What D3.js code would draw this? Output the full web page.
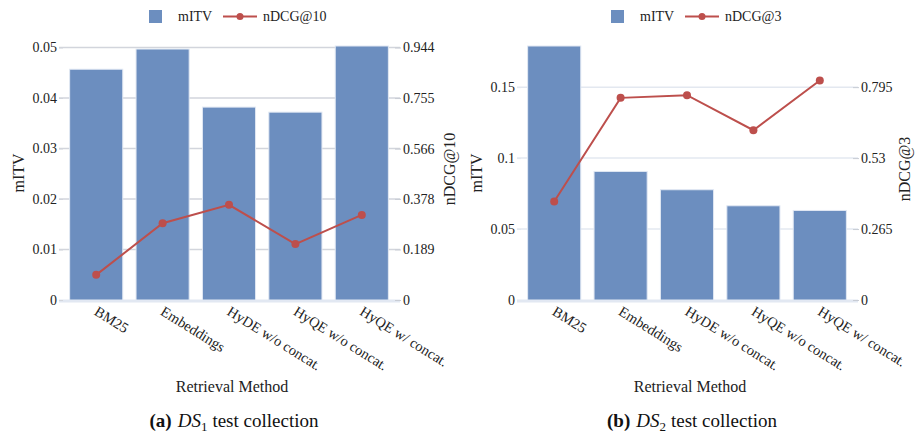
<!DOCTYPE html>
<html>
<head>
<meta charset="utf-8">
<script src="https://cdn.jsdelivr.net/npm/d3@7"></script>
<style>
  body { margin: 0; background: #fff; }
  svg { font-family: "Liberation Serif", "DejaVu Serif", serif; }
</style>
</head>
<body>
<svg id="chart" width="918" height="435"></svg>
<script>
const methods = ["BM25", "Embeddings", "HyDE w/o concat.", "HyQE w/o concat.", "HyQE w/ concat."];

// DS1 panel
const mitvDS1 = [0.0457, 0.0497, 0.0382, 0.0372, 0.0503];
const ndcg10DS1 = [0.094, 0.287, 0.356, 0.209, 0.318];
const leftTicksDS1 = [0, 0.01, 0.02, 0.03, 0.04, 0.05];
const rightTicksDS1 = [0, 0.189, 0.378, 0.566, 0.755, 0.944];

// DS2 panel
const mitvDS2 = [0.179, 0.0906, 0.0777, 0.0664, 0.0631];
const ndcg3DS2 = [0.368, 0.755, 0.765, 0.634, 0.82];
const leftTicksDS2 = [0, 0.05, 0.1, 0.15];
const rightTicksDS2 = [0, 0.265, 0.53, 0.795];

const barColor = "#6c8ebf";
const lineColor = "#bd4f4c";
const textColor = "#222";

const svg = d3.select("#chart");

function drawPanel(cfg) {
	const g = svg.append("g").attr("transform", `translate(${cfg.offset},0)`);
	const left = 63, right = 395, top = 46, bottom = 300;
	const cx = (left + right) / 2;

	const x = d3.scaleBand().domain(methods).range([left, right])
		.paddingInner(0.2).paddingOuter(0.1);
	const yL = d3.scaleLinear().domain([0, d3.max(cfg.bars)]).range([bottom, top]);
	const ratio = cfg.rightTicks[cfg.rightTicks.length - 1] / cfg.leftTicks[cfg.leftTicks.length - 1];
	const yR = d3.scaleLinear().domain([0, d3.max(cfg.bars) * ratio]).range([bottom, top]);

	// grid
	g.append("g").selectAll("line")
		.data(cfg.leftTicks.filter((d) => d > 0))
		.join("line")
		.attr("x1", left - 4).attr("x2", right + 5)
		.attr("y1", (d) => yL(d)).attr("y2", (d) => yL(d))
		.attr("stroke", cfg.gridColor).attr("stroke-width", 1.5);
	g.append("line")
		.attr("x1", left - 4).attr("x2", right + 5)
		.attr("y1", bottom + 1).attr("y2", bottom + 1)
		.attr("stroke", "#e2e8f2").attr("stroke-width", 3);

	// left axis
	const la = g.append("g")
		.attr("transform", `translate(${left},0)`)
		.call(d3.axisLeft(yL).tickValues(cfg.leftTicks).tickFormat((d) => String(d)).tickSize(4).tickPadding(2));
	la.select(".domain").remove();
	la.selectAll("line").attr("stroke", cfg.gridColor);
	la.selectAll("text").attr("font-size", 14).attr("font-family", "Liberation Serif").attr("fill", textColor);

	// right axis
	const ra = g.append("g")
		.attr("transform", `translate(${right},0)`)
		.call(d3.axisRight(yR).tickValues(cfg.rightTicks).tickFormat((d) => String(d)).tickSize(6).tickPadding(2));
	ra.select(".domain").remove();
	ra.selectAll("line").attr("stroke", "#c8ccd4");
	ra.selectAll("text").attr("font-size", 14).attr("font-family", "Liberation Serif").attr("fill", textColor);

	// bars
	g.append("g").selectAll("rect")
		.data(cfg.bars)
		.join("rect")
		.attr("x", (d, i) => x(methods[i]))
		.attr("y", (d) => yL(d))
		.attr("width", x.bandwidth())
		.attr("height", (d) => bottom - yL(d))
		.attr("fill", barColor)
		.attr("stroke", "#e1e8f3")
		.attr("stroke-width", 1);

	// line + markers
	const line = d3.line()
		.x((d, i) => x(methods[i]) + x.bandwidth() / 2)
		.y((d) => yR(d));
	g.append("path")
		.datum(cfg.points)
		.attr("fill", "none")
		.attr("stroke", lineColor)
		.attr("stroke-width", 2)
		.attr("d", line);
	g.append("g").selectAll("circle")
		.data(cfg.points)
		.join("circle")
		.attr("cx", (d, i) => x(methods[i]) + x.bandwidth() / 2)
		.attr("cy", (d) => yR(d))
		.attr("r", 4)
		.attr("fill", lineColor);

	// x tick labels
	g.append("g").selectAll("text")
		.data(methods)
		.join("text")
		.attr("transform", (d) => `translate(${x(d) + x.bandwidth() / 2 - 3},${bottom + 14}) rotate(32)`)
		.attr("font-size", 14.5)
		.attr("fill", textColor)
		.text((d) => d);

	// axis titles
	g.append("text")
		.attr("transform", `translate(24,${(top + bottom) / 2}) rotate(-90)`)
		.attr("text-anchor", "middle")
		.attr("font-size", 16).attr("fill", textColor)
		.text("mITV");
	g.append("text")
		.attr("transform", `translate(${cfg.rightTitleX},${(top + bottom) / 2 - 4}) rotate(-90)`)
		.attr("text-anchor", "middle")
		.attr("font-size", 16).attr("fill", textColor)
		.text(cfg.lineLabel);
	g.append("text")
		.attr("x", cx + 3).attr("y", 392)
		.attr("text-anchor", "middle")
		.attr("font-size", 16).attr("fill", textColor)
		.text("Retrieval Method");

	// legend
	const lg = g.append("g");
	lg.append("rect").attr("x", cfg.legendX).attr("y", 10).attr("width", 13).attr("height", 13).attr("fill", barColor);
	lg.append("text").attr("x", cfg.legendX + 29).attr("y", 21).attr("font-size", 14).attr("fill", textColor).text("mITV");
	lg.append("line")
		.attr("x1", cfg.legendX + 74).attr("x2", cfg.legendX + 108)
		.attr("y1", 16.5).attr("y2", 16.5)
		.attr("stroke", lineColor).attr("stroke-width", 2);
	lg.append("circle").attr("cx", cfg.legendX + 91).attr("cy", 16.5).attr("r", 3.5).attr("fill", lineColor);
	lg.append("text").attr("x", cfg.legendX + 114).attr("y", 21).attr("font-size", 14).attr("fill", textColor).text(cfg.lineLabel);

	// caption
	const cap = g.append("text")
		.attr("x", cx + 5).attr("y", 427)
		.attr("text-anchor", "middle")
		.attr("font-size", 19).attr("fill", "#111");
	cap.append("tspan").attr("font-weight", "bold").text(cfg.tag);
	cap.append("tspan").attr("dx", 6).attr("font-style", "italic").text("DS");
	cap.append("tspan").attr("font-size", 13).attr("dy", 4).text(cfg.sub);
	cap.append("tspan").attr("dy", -4).attr("dx", 5).text("test collection");
}

drawPanel({
	offset: 0,
	bars: mitvDS1,
	points: ndcg10DS1,
	leftTicks: leftTicksDS1,
	rightTicks: rightTicksDS1,
	lineLabel: "nDCG@10",
	gridColor: "#d2d5dc",
	rightTitleX: 455,
	legendX: 149,
	tag: "(a)",
	sub: "1",
});

drawPanel({
	offset: 458,
	bars: mitvDS2,
	points: ndcg3DS2,
	leftTicks: leftTicksDS2,
	rightTicks: rightTicksDS2,
	lineLabel: "nDCG@3",
	gridColor: "#e3e8f0",
	rightTitleX: 452,
	legendX: 153,
	tag: "(b)",
	sub: "2",
});
</script>
</body>
</html>
